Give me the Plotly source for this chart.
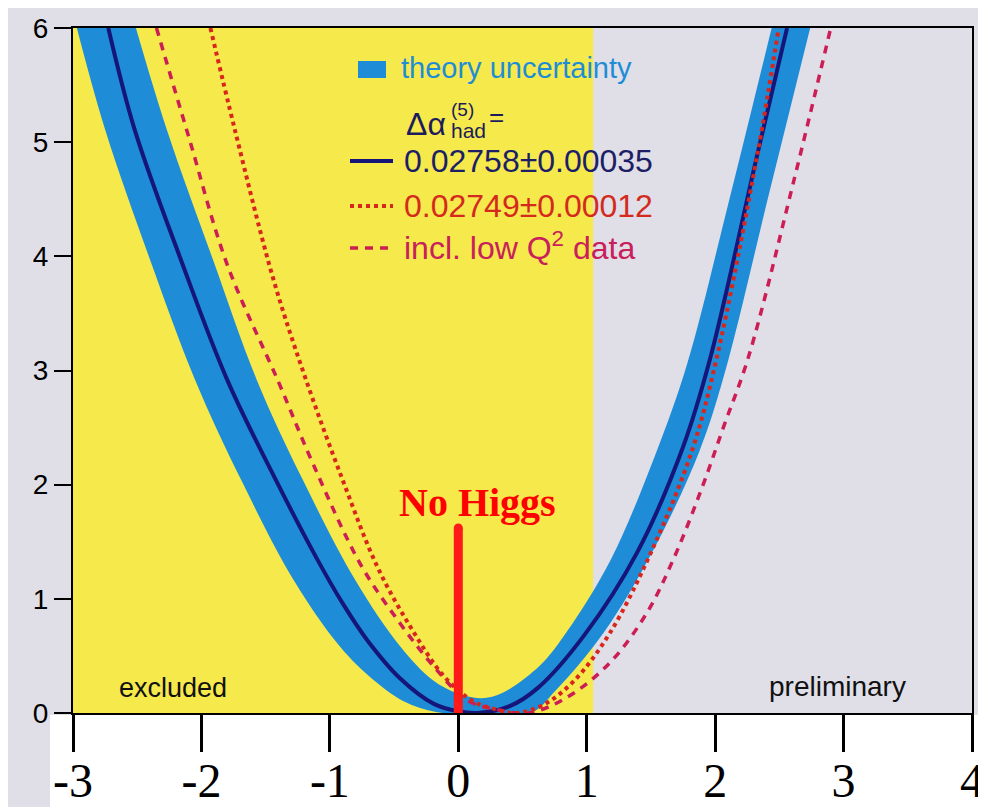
import plotly.graph_objects as go

# ---------------- data ----------------
x_ticks = [-3, -2, -1, 0, 1, 2, 3, 4]
x_ticktext = ["-3", "-2", "-1", "0", "1", "2", "3", "4"]
y_ticks = [0, 1, 2, 3, 4, 5, 6]
y_ticktext = ["0", "1", "2", "3", "4", "5", "6"]

excluded_limit = 1.05  # right edge of the yellow "excluded" region

# theory-uncertainty band: outer (lower) edge, left->right
band_outer_x = [-2.97, -2.75, -2.40, -2.05, -1.69, -1.28, -0.92, -0.66, -0.40, -0.12,
                0.56, 0.76, 1.13, 1.52, 1.88, 2.08, 2.42, 2.74]
band_outer_y = [6.0, 5.11, 3.97, 2.92, 2.04, 1.16, 0.58, 0.29, 0.09, 0.0,
                0.0, 0.20, 0.70, 1.43, 2.30, 3.00, 4.55, 6.0]
# inner (upper) edge, left->right
band_inner_x = [-2.51, -2.27, -1.91, -1.57, -1.21, -0.80, -0.45, -0.20, 0.0, 0.18,
                0.35, 0.64, 0.85, 1.19, 1.53, 1.78, 2.10, 2.44]
band_inner_y = [6.0, 5.11, 3.97, 2.92, 2.04, 1.16, 0.58, 0.29, 0.17, 0.13,
                0.18, 0.42, 0.72, 1.35, 2.25, 3.05, 4.45, 6.0]

# central curve: 0.02758 +- 0.00035
central_x = [-2.725, -2.52, -2.16, -1.80, -1.42, -1.10, -0.90, -0.71, -0.45, -0.19, 0.0, 0.15,
             0.40, 0.62, 0.98, 1.39, 1.75, 1.96, 2.33, 2.56]
central_y = [6.0, 5.11, 3.97, 2.92, 2.04, 1.35, 0.96, 0.64, 0.30, 0.08, 0.015, 0.0,
             0.06, 0.22, 0.68, 1.40, 2.33, 3.10, 4.90, 6.0]

# dotted curve: 0.02749 +- 0.00012
dotted_x = [-1.93, -1.74, -1.44, -1.18, -0.90, -0.63, -0.37, -0.11, 0.12, 0.30, 0.45,
            0.66, 0.90, 1.18, 1.51, 1.82, 2.01, 2.33, 2.495]
dotted_y = [6.0, 5.11, 3.80, 2.90, 2.04, 1.28, 0.75, 0.32, 0.10, 0.03, 0.0,
            0.07, 0.28, 0.70, 1.43, 2.30, 3.10, 4.90, 6.0]

# dashed curve: incl. low Q^2 data
dashed_x = [-2.35, -2.10, -1.80, -1.40, -1.13, -0.76, -0.45, -0.17, 0.07, 0.30, 0.55,
            0.85, 1.18, 1.47, 1.68, 1.89, 2.07, 2.26, 2.61, 2.90]
dashed_y = [6.0, 5.05, 3.93, 2.90, 2.18, 1.30, 0.78, 0.38, 0.11, 0.03, 0.0,
            0.14, 0.44, 0.88, 1.36, 1.95, 2.52, 3.12, 4.65, 6.0]

# "No Higgs" marker
nohiggs_x = [0, 0]
nohiggs_y = [0, 1.62]

# ---------------- layout helpers ----------------
OFF = 8                      # page body margin of the html page
W, H = 986 - OFF, 807 - OFF  # figure size
L, R, T, B = 73 - OFF, 14, 28 - OFF, 94
PW, PH = W - L - R, H - T - B


def px(xs):
    """screen x pixel -> paper coordinate"""
    return (xs - OFF - L) / PW


def py(ys):
    """screen y pixel -> paper coordinate"""
    return (H - B - (ys - OFF)) / PH


BG = "#e0dee7"
YELLOW = "#f5e94c"
BLUE = "#1e8cd7"
NAVY = "#15157a"
RED_DOT = "#d9261c"
CRIMSON = "#cc1e55"
SANS = "Liberation Sans, Arial, sans-serif"
SERIF = "Liberation Serif, Times New Roman, serif"
SM = 1.0

fig = go.Figure()

# band: outer edge then inner edge filled to it
fig.add_trace(go.Scatter(x=band_outer_x, y=band_outer_y, mode="lines",
                         line=dict(width=0, color=BLUE, shape="spline", smoothing=SM),
                         hoverinfo="skip", showlegend=False))
fig.add_trace(go.Scatter(x=band_inner_x, y=band_inner_y, mode="lines", fill="tonext",
                         fillcolor=BLUE,
                         line=dict(width=0, color=BLUE, shape="spline", smoothing=SM),
                         hoverinfo="skip", showlegend=False))
fig.add_trace(go.Scatter(x=central_x, y=central_y, mode="lines",
                         line=dict(color=NAVY, width=4, shape="spline", smoothing=SM),
                         showlegend=False))
fig.add_trace(go.Scatter(x=dashed_x, y=dashed_y, mode="lines",
                         line=dict(color=CRIMSON, width=3.5, dash="8px,7px",
                                   shape="spline", smoothing=SM),
                         showlegend=False))
fig.add_trace(go.Scatter(x=dotted_x, y=dotted_y, mode="lines",
                         line=dict(color=RED_DOT, width=4, dash="dot",
                                   shape="spline", smoothing=SM),
                         showlegend=False))
fig.add_trace(go.Scatter(x=nohiggs_x, y=nohiggs_y, mode="lines", xaxis="x2",
                         line=dict(color="#ff1a1a", width=9),
                         showlegend=False, cliponaxis=False))
fig.add_trace(go.Scatter(x=nohiggs_x[1:], y=nohiggs_y[1:], mode="markers", xaxis="x2",
                         marker=dict(color="#ff1a1a", size=9, line=dict(width=0)),
                         showlegend=False, cliponaxis=False))

shapes = [
    # excluded region
    dict(type="rect", xref="x", yref="y", x0=-3, x1=excluded_limit, y0=0, y1=6,
         fillcolor=YELLOW, line=dict(width=0), layer="below"),
    # white strip below the axis
    dict(type="rect", xref="paper", yref="paper", x0=px(50), x1=px(1000),
         y0=py(820), y1=py(715), fillcolor="white", line=dict(width=0), layer="below"),
    # legend samples
    dict(type="rect", xref="paper", yref="paper", x0=px(358), x1=px(386),
         y0=py(78), y1=py(61), fillcolor=BLUE, line=dict(width=0)),
    dict(type="line", xref="paper", yref="paper", x0=px(350), x1=px(393),
         y0=py(161), y1=py(161), line=dict(color=NAVY, width=4)),
    dict(type="line", xref="paper", yref="paper", x0=px(350), x1=px(393),
         y0=py(206), y1=py(206), line=dict(color=RED_DOT, width=4, dash="dot")),
    dict(type="line", xref="paper", yref="paper", x0=px(350), x1=px(394),
         y0=py(248), y1=py(248), line=dict(color=CRIMSON, width=3.5, dash="8px,7px")),
]


def label(text, xs, ys, size, color, family=SANS, anchor="left"):
    return dict(text=text, xref="paper", yref="paper", x=px(xs), y=py(ys),
                xanchor=anchor, yanchor="middle", showarrow=False,
                font=dict(family=family, size=size, color=color))


annotations = [
    label("theory uncertainty", 399, 68, 29, "#1f8dd6"),
    label("Δα", 404, 124, 32, "#1c1c5c"),
    label("(5)", 449, 109, 19, "#1c1c5c"),
    label("had", 449, 130, 21, "#1c1c5c"),
    label("=", 487, 117, 26, "#1c1c5c"),
    label("0.02758±0.00035", 402, 161, 32, "#1c1f66"),
    label("0.02749±0.00012", 402, 206, 32, "#d42a1e"),
    label("incl. low Q<sup>2</sup> data", 402, 246, 32, "#c8205a"),
    dict(text="excluded", x=-2.22, y=0.22, xref="x", yref="y", showarrow=False,
         font=dict(family=SANS, size=27, color="#111111")),
    dict(text="preliminary", x=2.95, y=0.23, xref="x", yref="y", showarrow=False,
         font=dict(family=SANS, size=28, color="#111111")),
    dict(text="<b>No Higgs</b>", x=0.15, y=1.84, xref="x", yref="y", showarrow=False,
         font=dict(family=SERIF, size=40, color="#ff0000")),
]

fig.update_layout(
    width=W, height=H,
    margin=dict(l=L, r=R, t=T, b=B, pad=0, autoexpand=False),
    paper_bgcolor=BG, plot_bgcolor=BG,
    shapes=shapes, annotations=annotations,
    showlegend=False,
    xaxis=dict(range=[-3, 4], tickvals=x_ticks, ticktext=x_ticktext, automargin=False,
               ticks="outside", ticklen=24, tickwidth=3, tickcolor="black",
               showline=True, linecolor="black", linewidth=2, mirror=True,
               showgrid=False, zeroline=False,
               tickfont=dict(family=SERIF, size=48, color="black")),
    xaxis2=dict(range=[-3, 4], tickvals=x_ticks, overlaying="x", anchor="y", side="bottom",
                automargin=False, ticks="outside", ticklen=38, tickwidth=3,
                tickcolor="black", showticklabels=False, showline=False,
                showgrid=False, zeroline=False),
    yaxis=dict(range=[0, 6], tickvals=y_ticks, ticktext=y_ticktext, automargin=False,
               ticks="outside", ticklen=17, tickwidth=2, tickcolor="black",
               showline=True, linecolor="black", linewidth=2, mirror=True,
               showgrid=False, zeroline=False, ticklabelstandoff=0,
               tickfont=dict(family=SANS, size=28, color="black")),
)

fig.write_html("out.html", include_plotlyjs=True, config={"displayModeBar": False})
